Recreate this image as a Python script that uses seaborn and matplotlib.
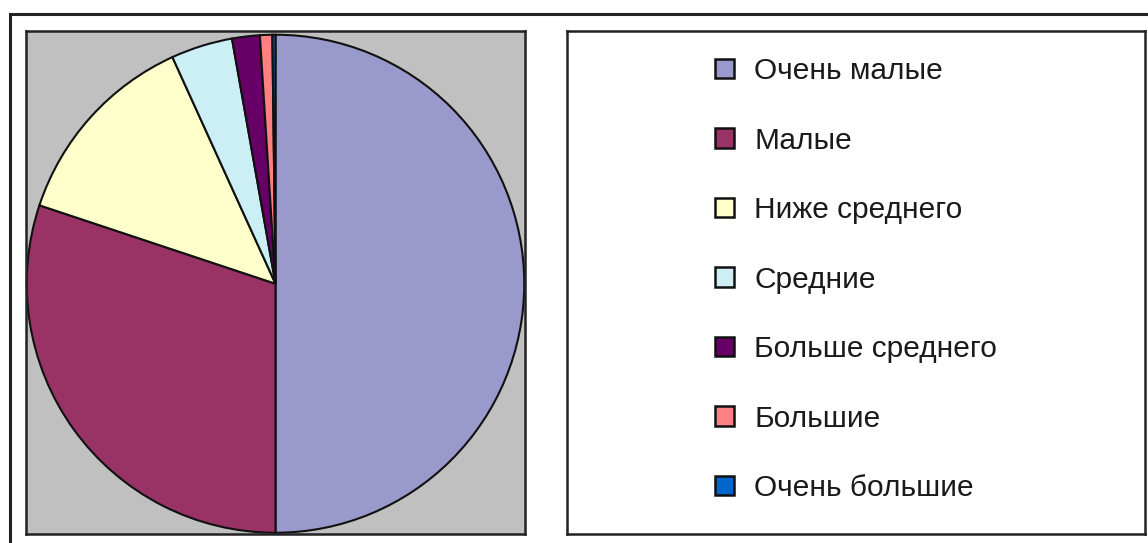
import matplotlib
matplotlib.use("Agg")
import matplotlib.pyplot as plt
import seaborn as sns
from matplotlib.patches import Rectangle

categories = ["Очень малые", "Малые", "Ниже среднего", "Средние",
              "Больше среднего", "Большие", "Очень большие"]
shares = [50.0, 30.1, 13.1, 4.0, 1.8, 0.8, 0.2]
colors = ["#9999CC", "#993366", "#FFFFCC", "#CCEEF5",
          "#660066", "#FF8080", "#0066CC"]

sns.set_theme(style="white")
plt.rcParams["font.family"] = ["Liberation Sans", "DejaVu Sans"]

W, H = 1148, 543
fig = plt.figure(figsize=(W / 100, H / 100), dpi=100)
fig.patch.set_facecolor("white")

def fbox(x0, y0, x1, y1):
    return [x0 / W, 1 - y1 / H, (x1 - x0) / W, (y1 - y0) / H]

# outer frame
fig.add_artist(Rectangle((10 / W, -0.05), 1.2, 1 - 13.5 / H + 0.05,
                         transform=fig.transFigure, fill=False,
                         edgecolor="#222222", linewidth=2.2))

# pie area
ax = fig.add_axes(fbox(26, 31, 525, 534))
ax.set_facecolor("#C0C0C0")
pal = sns.color_palette(colors)
wedges, _ = ax.pie(shares, colors=pal, startangle=90,
                   counterclock=False, radius=1.0, frame=True,
                   wedgeprops=dict(edgecolor="#111111", linewidth=1.5))
ax.set_aspect("auto")
ax.set_xlim(-1.003, 1.003)
ax.set_ylim(-1.005, 1.015)
ax.set_xticks([])
ax.set_yticks([])
ax.set_frame_on(True)
for s in ax.spines.values():
    s.set_visible(True)
    s.set_color("#222222")
    s.set_linewidth(1.8)

# legend box
lax = fig.add_axes(fbox(567, 31, 1145, 534))
lax.set_facecolor("white")
lax.set_xticks([])
lax.set_yticks([])
for s in lax.spines.values():
    s.set_visible(True)
    s.set_color("#222222")
    s.set_linewidth(1.8)

fs = 21.5
leg = fig.legend(wedges, categories, loc="upper left",
                 bbox_to_anchor=(715 / W, 1 - 57 / H),
                 bbox_transform=fig.transFigure, frameon=False,
                 fontsize=fs, borderpad=0, borderaxespad=0,
                 handlelength=0.62, handleheight=0.62, handletextpad=0.7,
                 labelspacing=1.39)
for h in leg.legend_handles:
    h.set_edgecolor("#111111")
    h.set_linewidth(1.8)
for t in leg.get_texts():
    t.set_color("#1a1a1a")

fig.savefig("out.png", dpi=100)
